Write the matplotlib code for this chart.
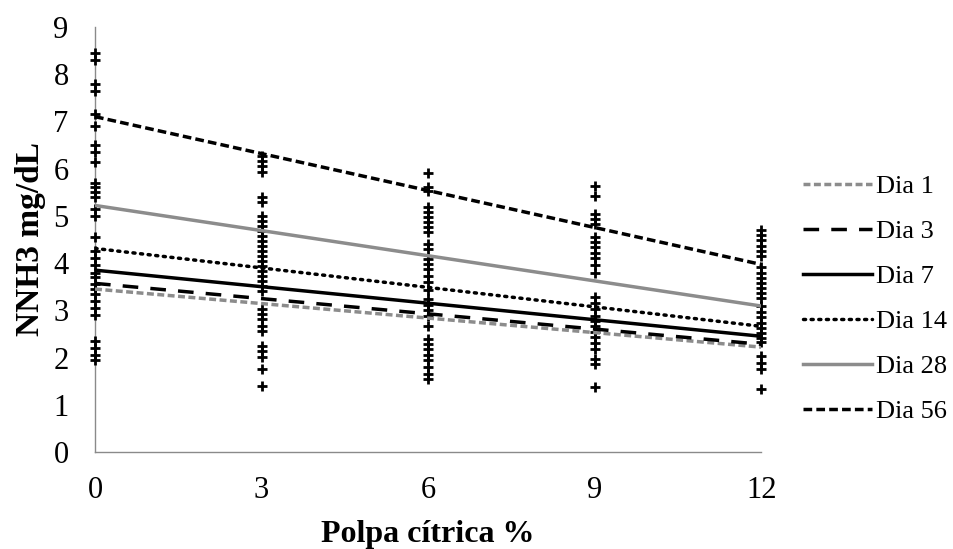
import matplotlib
matplotlib.use("Agg")
import matplotlib.pyplot as plt
import numpy as np

plt.rcParams['font.family'] = ['Liberation Serif', 'DejaVu Serif']

levels = [0, 3, 6, 9, 12]
obs_0 = [8.45, 8.3, 7.8, 7.65, 7.15, 6.9, 6.5, 6.35, 6.15, 5.7, 5.6, 5.5, 5.4, 5.15, 5.0,
         4.55, 4.25, 4.1, 3.95, 3.8, 3.7, 3.55, 3.45, 3.35, 3.2, 3.05, 2.9, 2.35, 2.2, 2.05, 1.95]
obs_3 = [6.26, 6.16, 6.05, 5.92, 5.39, 5.29, 5.0, 4.89, 4.78, 4.68, 4.57, 4.47, 4.36, 4.26,
         4.15, 4.05, 3.94, 3.84, 3.73, 3.63, 3.52, 3.41, 3.02, 2.92, 2.81, 2.67, 2.56, 2.25,
         2.14, 2.01, 1.75, 1.40]
obs_6 = [5.91, 5.60, 5.52, 5.18, 5.08, 4.97, 4.87, 4.76, 4.65, 4.40, 4.29, 4.08, 3.98, 3.87,
         3.72, 3.59, 3.44, 3.23, 3.12, 3.0, 2.88, 2.66, 2.39, 2.28, 2.17, 2.06, 1.95, 1.80,
         1.65, 1.54]
obs_9 = [5.63, 5.42, 5.03, 4.93, 4.82, 4.55, 4.44, 4.33, 4.22, 4.10, 3.95, 3.80, 3.28, 3.15,
         3.02, 2.88, 2.77, 2.66, 2.55, 2.44, 2.30, 2.18, 1.97, 1.86, 1.37]
obs_12 = [4.71, 4.60, 4.48, 4.37, 4.25, 4.14, 3.91, 3.80, 3.69, 3.58, 3.47, 3.36, 3.25, 3.09,
          2.96, 2.85, 2.74, 2.63, 2.52, 2.42, 2.33, 2.03, 1.89, 1.75, 1.33]
observations = [obs_0, obs_3, obs_6, obs_9, obs_12]

series_names = ['Dia 1', 'Dia 3', 'Dia 7', 'Dia 14', 'Dia 28', 'Dia 56']
fit_start = [3.45, 3.57, 3.85, 4.31, 5.22, 7.10]
fit_end = [2.22, 2.28, 2.45, 2.66, 3.09, 3.97]

styles = [
    dict(color='#8c8c8c', linestyle=(0, (2.0, 1.0))),
    dict(color='black', linestyle=(0, (4.5, 3.5))),
    dict(color='black', linestyle='-'),
    dict(color='black', linestyle=(0, (0.6, 1.6)), dash_capstyle='round'),
    dict(color='#8c8c8c', linestyle='-'),
    dict(color='black', linestyle=(0, (2.5, 1.2))),
]

fig = plt.figure(figsize=(9.54, 5.49), dpi=100)
ax = fig.add_axes([0.0996, 0.1767, 0.6984, 0.7743])

for lv, vals in zip(levels, observations):
    ax.plot([lv] * len(vals), vals, linestyle='none', marker='+', color='black',
            markersize=7, markeredgewidth=2.0, zorder=3, clip_on=False)

for name, y0, y1, st in zip(series_names, fit_start, fit_end, styles):
    ax.plot([levels[0], levels[-1]], [y0, y1], linewidth=2.5, label=name, zorder=4, **st)

ax.set_xlim(0, 12)
ax.set_ylim(0, 9)
ax.set_xticks(levels)
ax.set_yticks(range(0, 10))
ax.tick_params(axis='y', length=0, labelsize=22, pad=19)
ax.tick_params(axis='x', length=0, labelsize=22, pad=17)
for s in ['top', 'right']:
    ax.spines[s].set_visible(False)
for s in ['left', 'bottom']:
    ax.spines[s].set_color('#8a8a8a')
    ax.spines[s].set_linewidth(1.0)

ax.set_xlabel('Polpa cítrica %', fontsize=23, fontweight='bold', labelpad=11)
ax.set_ylabel('NNH3 mg/dL', fontsize=24, fontweight='bold', labelpad=5)

leg = ax.legend(loc='center left', bbox_to_anchor=(1.063, 0.36), frameon=False,
                fontsize=19, handlelength=2.6, handletextpad=0.15, labelspacing=0.82,
                borderaxespad=0, borderpad=0)

fig.savefig('out.png', dpi=100)
